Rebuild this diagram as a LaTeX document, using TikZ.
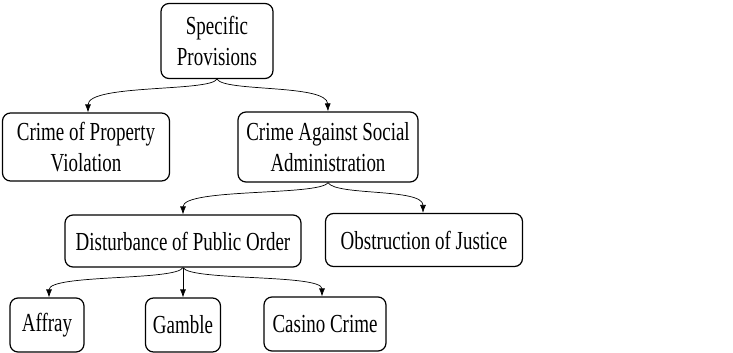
\documentclass[tikz,border=0pt]{standalone}
\usepackage{fontspec}
\setmainfont{Liberation Serif}[FakeStretch=0.73]
\usetikzlibrary{arrows.meta,positioning}

\begin{document}
\begin{tikzpicture}[x=1pt, y=-1pt, >={Latex[length=8pt,width=6pt]},
  font=\fontsize{26}{31}\selectfont,
  cat/.style={draw, rounded corners=8pt, line width=1.2pt, align=center, inner sep=0pt},
  link/.style={->, line width=0.7pt}]
  \useasboundingbox (0,0) rectangle (733,353);
  % top level
  \node[cat, minimum width=112pt, minimum height=75pt] (sp) at (217,41) {Specific\\Provisions};
  % second level
  \node[cat, minimum width=167pt, minimum height=68pt] (cpv) at (86,147) {Crime of Property\\Violation};
  \node[cat, minimum width=180pt, minimum height=70pt] (csa) at (328,147) {Crime Against Social\\Administration};
  % third level
  \node[cat, minimum width=236pt, minimum height=52pt] (dpo) at (183,241) {Disturbance of Public Order};
  \node[cat, minimum width=197pt, minimum height=53pt] (oj) at (424,240) {Obstruction of Justice};
  % leaves
  \node[cat, minimum width=74pt, minimum height=54pt] (aff) at (47,325) {Affray};
  \node[cat, minimum width=75pt, minimum height=54pt] (gam) at (183,325) {Gamble};
  \node[cat, minimum width=122pt, minimum height=54pt] (cas) at (325,324) {Casino Crime};

  \draw[link] (sp.south) .. controls (210,92) and (88,84) .. (cpv.north -| 88,0);
  \draw[link] (sp.south) .. controls (224,92) and (327,84) .. (csa.north);
  \draw[link] (csa.south) .. controls (320,196) and (183,188) .. (dpo.north);
  \draw[link] (csa.south) .. controls (336,196) and (423,188) .. (oj.north -| 423,0);
  \draw[link] (dpo.south) .. controls (176,281) and (49,274) .. (aff.north -| 49,0);
  \draw[link] (dpo.south) -- (gam.north);
  \draw[link] (dpo.south) .. controls (190,281) and (322,274) .. (cas.north -| 322,0);
\end{tikzpicture}
\end{document}
